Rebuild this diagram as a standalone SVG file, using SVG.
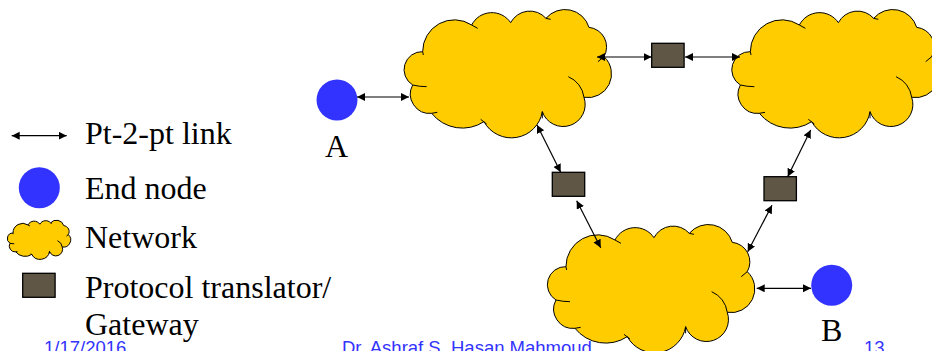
<svg xmlns="http://www.w3.org/2000/svg" width="932" height="351" viewBox="0 0 932 351">
<style>
.c{fill:#fc0;stroke:#000;stroke-width:1;vector-effect:non-scaling-stroke}
.t{fill:none;stroke:#000;stroke-width:1;vector-effect:non-scaling-stroke}
.g{fill:#5f5646;stroke:#000;stroke-width:1.3}
.n{fill:#33f}
.l{fill:none;stroke:#000;stroke-width:1.2;marker-start:url(#a);marker-end:url(#a)}
text{font-family:"Liberation Serif",serif;font-size:32px;fill:#000}
.f{font-family:"Liberation Sans",sans-serif;font-size:18.5px;fill:#33f}
</style>
<defs>
<marker id="a" markerUnits="userSpaceOnUse" markerWidth="9" markerHeight="9" refX="8" refY="4" orient="auto-start-reverse"><path d="M0 0L8 4L0 8Z" fill="#000"/></marker>
<g id="cloud">
<path class="c" d="M128 155A95 95 0 0 1 275 75A68 68 0 0 1 392 68A65 65 0 0 1 498 55A75 75 0 0 1 627 82A59 59 0 0 1 672 170A71 71 0 0 1 612 292A66 66 0 0 1 487 335A94 94 0 0 1 312 365A118 118 0 0 1 155 340A58 58 0 0 1 98 255A54 54 0 0 1 128 155Z"/>
<path class="t" d="M275 75L293 85M498 55L512 58M565 230A78 78 0 0 1 612 292M487 335V355M302 358L320 372M155 340L172 337M98 255Q118 260 140 260M128 155L130 165M672 170L654 185"/>
</g>
</defs>
<g id="net1"><use href="#cloud" transform="translate(380 0) scale(.3333)"/></g>
<g id="net2"><use href="#cloud" transform="translate(707.7 0) scale(.3333)"/></g>
<g id="net3"><use href="#cloud" transform="translate(523.3 215) scale(.3333)"/></g>
<g id="gw1"><rect class="g" x="651.7" y="43.3" width="32.4" height="24"/></g>
<g id="gw2"><rect class="g" x="552.3" y="172.3" width="32.4" height="24"/></g>
<g id="gw3"><rect class="g" x="764" y="176.7" width="32.4" height="24"/></g>
<g id="nodeA"><circle class="n" cx="337" cy="100" r="20.5"/><text x="325" y="157">A</text></g>
<g id="nodeB"><circle class="n" cx="831.7" cy="285.3" r="20.5"/><text x="821" y="341">B</text></g>
<g id="legend">
<circle class="n" cx="39.3" cy="187.7" r="20.5"/>
<use href="#cloud" transform="translate(0 217.3) scale(.1017)"/>
<rect class="g" x="22.7" y="273.3" width="32.4" height="24"/>
<text x="85" y="144">Pt-2-pt link</text>
<text x="85" y="199">End node</text>
<text x="85" y="248">Network</text>
<text x="85" y="298">Protocol translator/</text>
<text x="85" y="335">Gateway</text>
</g>
<g id="connectors">
<path class="l" d="M357 97H409"/>
<path class="l" d="M597 57H651.7"/>
<path class="l" d="M685 57H740"/>
<path class="l" d="M537 125L560.7 172.3"/>
<path class="l" d="M576.7 200.7L600.7 247.7"/>
<path class="l" d="M787.7 176.7L810.7 130"/>
<path class="l" d="M772 205.3L747.7 251.7"/>
<path class="l" d="M756.7 288.3H811"/>
<path class="l" d="M11.7 135.7H66.7"/>
</g>
<g id="footer">
<text class="f" x="44" y="353.5">1/17/2016</text>
<text class="f" x="342" y="353.5">Dr. Ashraf S. Hasan Mahmoud</text>
<text class="f" x="864" y="353.5">13</text>
</g>
</svg>
